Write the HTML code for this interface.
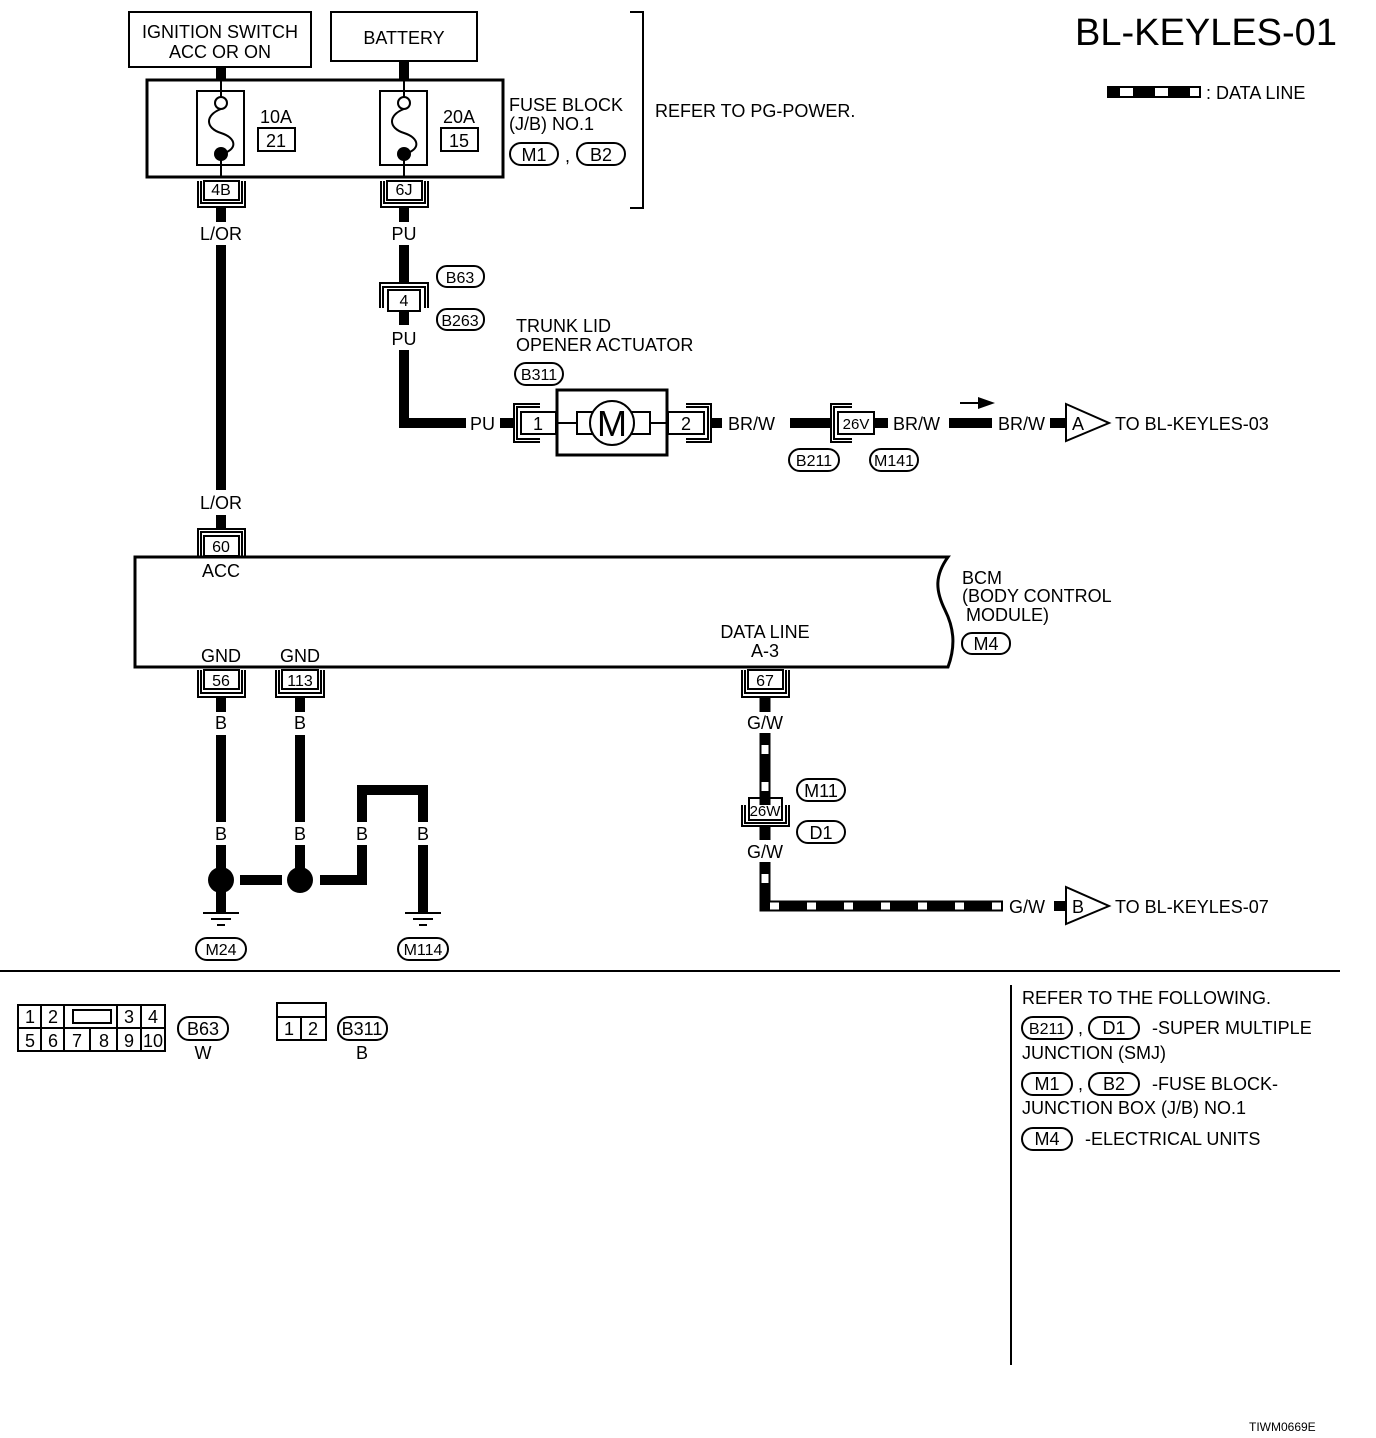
<!DOCTYPE html>
<html><head><meta charset="utf-8"><style>
html,body{margin:0;padding:0;background:#fff;}
svg{display:block;}
text{font-family:"Liberation Sans",Arial,sans-serif;font-size:18px;fill:#000;}
.c{text-anchor:middle;}
</style></head><body>
<svg width="1376" height="1438" viewBox="0 0 1376 1438" xmlns="http://www.w3.org/2000/svg">
<g fill="none" stroke="#000" stroke-width="2">
<rect x="129" y="12" width="182" height="55"/>
<rect x="331" y="12" width="146" height="49"/>
<rect x="147" y="80" width="356" height="97" stroke-width="3"/>
<rect x="197" y="91" width="47" height="74"/>
<rect x="380" y="91" width="47" height="74"/>
<rect x="258" y="128" width="37" height="23"/>
<rect x="441" y="128" width="37" height="23"/>
<circle cx="221" cy="103" r="6"/>
<circle cx="404" cy="103" r="6"/>
<path d="M221 109 C205 115,205 128,221 133 C237 138,238 150,221 154"/>
<path d="M404 109 C388 115,388 128,404 133 C420 138,421 150,404 154"/>
<line x1="221" y1="80" x2="221" y2="97"/><line x1="404" y1="80" x2="404" y2="97"/>
<line x1="221" y1="154" x2="221" y2="177"/><line x1="404" y1="154" x2="404" y2="177"/>
<path d="M630 12 H643 V208 H630"/>
<rect x="1108" y="87" width="92" height="10"/>
</g>
<g fill="#000">
<circle cx="221" cy="154" r="7"/><circle cx="404" cy="154" r="7"/>
<rect x="216" y="67" width="10" height="13"/><rect x="399" y="61" width="10" height="19"/>
<rect x="1108" y="87" width="12" height="10"/><rect x="1133" y="87" width="22" height="10"/><rect x="1168" y="87" width="22" height="10"/>
</g>
<text x="220" y="38" class="c">IGNITION SWITCH</text>
<text x="220" y="58" class="c">ACC OR ON</text>
<text x="404" y="44" class="c">BATTERY</text>
<text x="1206" y="45" class="c" style="font-size:38px">BL-KEYLES-01</text>
<text x="1206" y="99">: DATA LINE</text>
<text x="276" y="123" class="c">10A</text><text x="276" y="147" class="c">21</text>
<text x="459" y="123" class="c">20A</text><text x="459" y="147" class="c">15</text>
<text x="509" y="111">FUSE BLOCK</text>
<text x="509" y="130">(J/B) NO.1</text>
<text x="655" y="117">REFER TO PG-POWER.</text>
<text x="565" y="162">,</text>

<g fill="none" stroke="#000" stroke-width="2">
<rect x="510" y="143" width="48" height="22" rx="11"/>
<rect x="577" y="143" width="48" height="22" rx="11"/>
<rect x="437" y="266" width="47" height="21" rx="10"/>
<rect x="437" y="309" width="47" height="21" rx="10"/>
<rect x="515" y="363" width="48" height="22" rx="11"/>
<rect x="789" y="449" width="50" height="22" rx="11"/>
<rect x="870" y="449" width="48" height="22" rx="11"/>
<rect x="962" y="633" width="48" height="21" rx="10"/>
<rect x="797" y="779" width="48" height="22" rx="11"/>
<rect x="797" y="821" width="48" height="22" rx="11"/>
<rect x="196" y="938" width="50" height="22" rx="11"/>
<rect x="398" y="938" width="50" height="22" rx="11"/>
<rect x="178" y="1017" width="50" height="23" rx="11"/>
<rect x="338" y="1017" width="49" height="23" rx="11"/>
<rect x="1022" y="1017" width="50" height="22" rx="11"/>
<rect x="1089" y="1017" width="50" height="22" rx="11"/>
<rect x="1022" y="1073" width="50" height="22" rx="11"/>
<rect x="1089" y="1073" width="50" height="22" rx="11"/>
<rect x="1022" y="1128" width="50" height="22" rx="11"/>
<rect x="204" y="181" width="35" height="19"/><path d="M198 181 V207 H245 V181 M201 181 V203 H242 V181"/>
<rect x="387" y="181" width="35" height="19"/><path d="M381 181 V207 H428 V181 M384 181 V203 H425 V181"/>
<rect x="388" y="290" width="32" height="21"/><path d="M380 308 V283 H428 V308 M383 308 V287 H425 V308"/>
<rect x="204" y="536" width="35" height="20"/><path d="M198 556 V529 H245 V556 M201 556 V532 H242 V556"/>
<rect x="204" y="670" width="35" height="19"/><path d="M198 670 V697 H245 V670 M201 670 V693 H242 V670"/>
<rect x="282" y="670" width="36" height="19"/><path d="M276 670 V697 H324 V670 M279 670 V693 H321 V670"/>
<rect x="748" y="670" width="35" height="19"/><path d="M742 670 V697 H789 V670 M745 670 V693 H786 V670"/>
<rect x="749" y="798" width="33" height="22"/><path d="M742 805 V826 H789 V805 M745 805 V823 H786 V805"/>
<rect x="521" y="412" width="35" height="22"/><path d="M540 404 H514 V442 H540 M540 407 H517 V439 H540"/>
<rect x="668" y="412" width="36" height="22"/><path d="M686 404 H711 V442 H686 M686 407 H708 V439 H686"/>
<rect x="557" y="390" width="110" height="65" stroke-width="3"/>
<rect x="577" y="412" width="73" height="22"/>
<circle cx="612" cy="423" r="22" fill="#fff"/>
<line x1="556" y1="423" x2="577" y2="423"/><line x1="650" y1="423" x2="668" y2="423"/>
<rect x="838" y="412" width="36" height="22"/><path d="M852 404 H831 V442 H852 M852 407 H834 V439 H852"/>
<path d="M1066 404 L1109 423 L1066 441 Z"/>
<path d="M1066 887 L1109 906 L1066 924 Z"/>
<path d="M135 557 H948 C935 575,935 590,945 610 C955 630,955 648,948 667 H135 Z" stroke-width="3"/>
<path d="M203 913 H239 M211 919 H231 M217 925 H225"/>
<path d="M405 913 H441 M413 919 H433 M419 925 H427"/>
<line x1="0" y1="971" x2="1340" y2="971"/>
<line x1="1011" y1="985" x2="1011" y2="1365"/>
<rect x="18" y="1005" width="147" height="46"/>
<line x1="18" y1="1028" x2="165" y2="1028"/>
<path d="M41 1005 V1051 M64 1005 V1051 M117 1005 V1051 M141 1005 V1051 M90 1028 V1051"/>
<rect x="73" y="1010" width="38" height="13"/>
<rect x="277" y="1003" width="49" height="37"/>
<path d="M277 1017 H326 M301 1017 V1040"/>
</g>
<g stroke="#000" stroke-width="10" fill="none">
<line x1="221" y1="207" x2="221" y2="222"/>
<line x1="221" y1="245" x2="221" y2="490"/>
<line x1="221" y1="515" x2="221" y2="529"/>
<line x1="404" y1="207" x2="404" y2="222"/>
<line x1="404" y1="245" x2="404" y2="283"/>
<line x1="404" y1="311" x2="404" y2="325"/>
<path d="M404 350 V423 H466"/>
<line x1="500" y1="423" x2="514" y2="423"/>
<line x1="711" y1="423" x2="722" y2="423"/>
<line x1="790" y1="423" x2="831" y2="423"/>
<line x1="874" y1="423" x2="888" y2="423"/>
<line x1="949" y1="423" x2="992" y2="423"/>
<line x1="1050" y1="423" x2="1066" y2="423"/>
<line x1="221" y1="697" x2="221" y2="712"/>
<line x1="221" y1="735" x2="221" y2="822"/>
<line x1="221" y1="845" x2="221" y2="912"/>
<line x1="300" y1="697" x2="300" y2="712"/>
<line x1="300" y1="735" x2="300" y2="822"/>
<line x1="300" y1="845" x2="300" y2="870"/>
<path d="M362 822 V790 H423 V822"/>
<path d="M320 880 H362 V845"/>
<line x1="423" y1="845" x2="423" y2="912"/>
<line x1="240" y1="880" x2="282" y2="880"/>
<line x1="1054" y1="906" x2="1066" y2="906"/>
</g>
<g fill="none">
<path d="M765 697 V712 M765 733 V805 M765 826 V840 M765 862 V906 H1003" stroke="#000" stroke-width="11"/>
<path d="M765 733 V805 M765 862 V906 H1003" stroke="#fff" stroke-width="7" stroke-dasharray="9 28" stroke-dashoffset="-12"/>
</g>
<path d="M960 403 H980" stroke="#000" stroke-width="2"/>
<path d="M978 397 L995 403 L978 409 Z" fill="#000"/>
<circle cx="221" cy="880" r="13" fill="#000"/>
<circle cx="300" cy="880" r="13" fill="#000"/>
<text x="221" y="240" class="c">L/OR</text>
<text x="404" y="240" class="c">PU</text>
<text x="221" y="187" class="c" style="font-size:16px" dy="8">4B</text>
<text x="404" y="195" class="c" style="font-size:16px">6J</text>
<text x="460" y="283" class="c" style="font-size:16px">B63</text>
<text x="404" y="306" class="c" style="font-size:16px">4</text>
<text x="460" y="326" class="c" style="font-size:16px">B263</text>
<text x="404" y="345" class="c">PU</text>
<text x="516" y="332">TRUNK LID</text>
<text x="516" y="351">OPENER ACTUATOR</text>
<text x="539" y="380" class="c" style="font-size:16px">B311</text>
<text x="470" y="430">PU</text>
<text x="538" y="430" class="c">1</text>
<text x="686" y="430" class="c">2</text>
<text x="612" y="436" class="c" style="font-size:36px">M</text>
<text x="728" y="430">BR/W</text>
<text x="856" y="429" class="c" style="font-size:15px">26V</text>
<text x="893" y="430">BR/W</text>
<text x="998" y="430">BR/W</text>
<text x="1078" y="430" class="c">A</text>
<text x="1115" y="430">TO BL-KEYLES-03</text>
<text x="814" y="466" class="c" style="font-size:16px">B211</text>
<text x="894" y="466" class="c" style="font-size:16px">M141</text>
<text x="534" y="161" class="c">M1</text>
<text x="601" y="161" class="c">B2</text>
<text x="221" y="509" class="c">L/OR</text>
<text x="221" y="552" class="c" style="font-size:16px">60</text>
<text x="221" y="577" class="c">ACC</text>
<text x="962" y="584">BCM</text>
<text x="962" y="602">(BODY CONTROL</text>
<text x="966" y="621">MODULE)</text>
<text x="986" y="650" class="c">M4</text>
<text x="221" y="662" class="c">GND</text>
<text x="300" y="662" class="c">GND</text>
<text x="765" y="638" class="c">DATA LINE</text>
<text x="765" y="657" class="c">A-3</text>
<text x="221" y="686" class="c" style="font-size:16px">56</text>
<text x="300" y="686" class="c" style="font-size:16px">113</text>
<text x="765" y="686" class="c" style="font-size:16px">67</text>
<text x="221" y="729" class="c">B</text>
<text x="300" y="729" class="c">B</text>
<text x="765" y="729" class="c">G/W</text>
<text x="221" y="840" class="c">B</text>
<text x="300" y="840" class="c">B</text>
<text x="362" y="840" class="c">B</text>
<text x="423" y="840" class="c">B</text>
<text x="765" y="816" class="c" style="font-size:15px">26W</text>
<text x="821" y="797" class="c">M11</text>
<text x="821" y="839" class="c">D1</text>
<text x="765" y="858" class="c">G/W</text>
<text x="1009" y="913">G/W</text>
<text x="1078" y="913" class="c">B</text>
<text x="1115" y="913">TO BL-KEYLES-07</text>
<text x="221" y="955" class="c" style="font-size:16px">M24</text>
<text x="423" y="955" class="c" style="font-size:16px">M114</text>
<g style="font-size:16px">
<text x="30" y="1023" class="c">1</text><text x="53" y="1023" class="c">2</text><text x="129" y="1023" class="c">3</text><text x="153" y="1023" class="c">4</text>
<text x="30" y="1047" class="c">5</text><text x="53" y="1047" class="c">6</text><text x="77" y="1047" class="c">7</text><text x="104" y="1047" class="c">8</text><text x="129" y="1047" class="c">9</text><text x="153" y="1047" class="c">10</text>
<text x="203" y="1035" class="c">B63</text>
<text x="289" y="1035" class="c">1</text><text x="313" y="1035" class="c">2</text>
<text x="362" y="1035" class="c">B311</text>
</g>
<text x="203" y="1059" class="c">W</text>
<text x="362" y="1059" class="c">B</text>
<text x="1022" y="1004">REFER TO THE FOLLOWING.</text>
<text x="1047" y="1034" class="c" style="font-size:16px">B211</text>
<text x="1078" y="1034">,</text>
<text x="1114" y="1034" class="c">D1</text>
<text x="1152" y="1034">-SUPER MULTIPLE</text>
<text x="1022" y="1059">JUNCTION (SMJ)</text>
<text x="1047" y="1090" class="c">M1</text>
<text x="1078" y="1090">,</text>
<text x="1114" y="1090" class="c">B2</text>
<text x="1152" y="1090">-FUSE BLOCK-</text>
<text x="1022" y="1114">JUNCTION BOX (J/B) NO.1</text>
<text x="1047" y="1145" class="c">M4</text>
<text x="1085" y="1145">-ELECTRICAL UNITS</text>
<text x="1249" y="1431" style="font-size:12px">TIWM0669E</text>
</svg>
</body></html>
